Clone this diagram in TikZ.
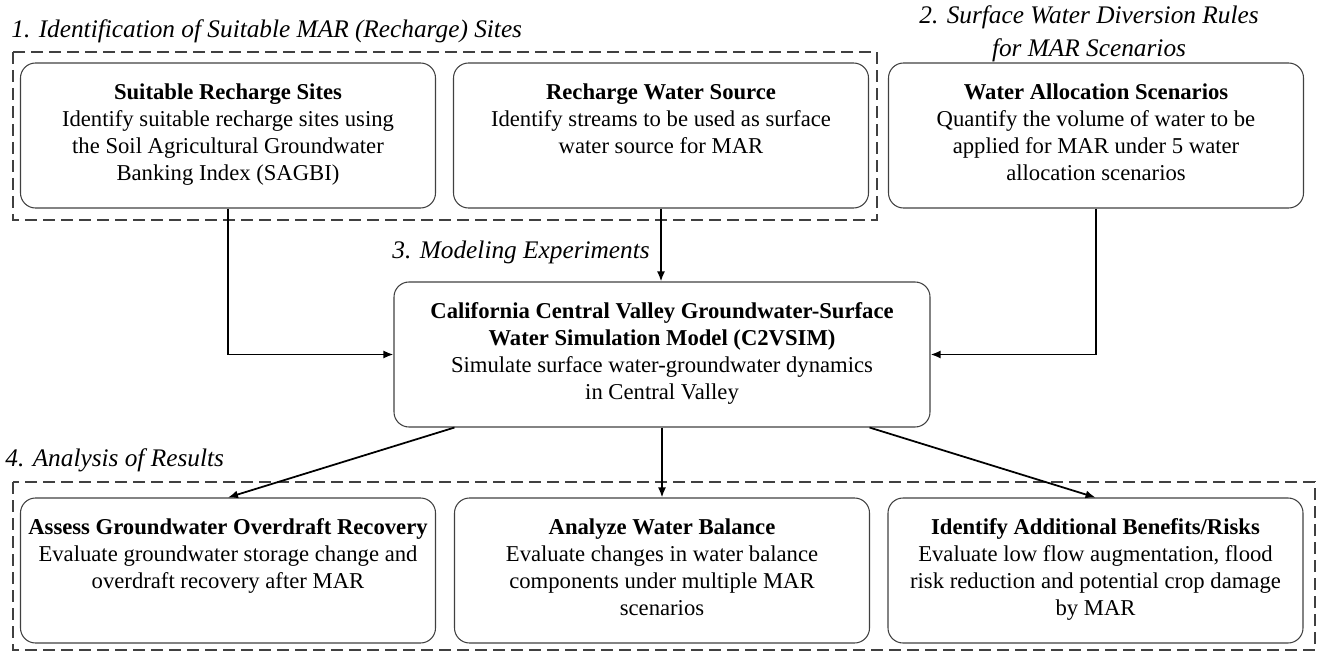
\documentclass[tikz,border=0pt]{standalone}
\usepackage{fontspec}
\setmainfont{Liberation Serif}
\usetikzlibrary{arrows.meta}
\newcommand{\boxtxt}[2]{\begin{minipage}[c][2.9cm][t]{#1}\centering\vspace*{0.42cm}#2\end{minipage}}
\begin{document}
\begin{tikzpicture}[x=1cm,y=1cm,
  stepbox/.style={draw=black!75, line width=0.6pt, rounded corners=0.3cm, inner sep=0pt, font=\fontsize{12.9}{15.3}\selectfont},
  grouptitle/.style={font=\fontsize{14.4}{18.8}\selectfont\itshape, inner sep=0pt},
  groupbox/.style={draw=black!75, line width=0.6pt, dash pattern=on 0.24cm off 0.12cm},
  flow/.style={-{Latex[length=0.2cm,width=0.16cm]}, line width=1pt}]
\useasboundingbox (0,0) rectangle (26.5,-13.14);
% groups
\draw[groupbox] (0.26,-1.04) rectangle (17.54,-4.40);
\draw[groupbox] (0.26,-9.64) rectangle (26.3,-13.0);
\node[grouptitle, anchor=west] (t1) at (0.22,-0.62) {1. Identification of Suitable MAR (Recharge) Sites};
\node[grouptitle, align=center] (t2) at (21.78,-0.67) {2. Surface Water Diversion Rules\\for MAR Scenarios};
\node[grouptitle, anchor=east] (t3) at (13.0,-5.04) {3. Modeling Experiments};
\node[grouptitle, anchor=west] (t4) at (0.1,-9.2) {4. Analysis of Results};
% inputs
\node[stepbox] (A) at (4.56,-2.71) {\boxtxt{8.3cm}{\textbf{Suitable Recharge Sites}\\Identify suitable recharge sites using\\the Soil Agricultural Groundwater\\Banking Index (SAGBI)}};
\node[stepbox] (B) at (13.22,-2.71) {\boxtxt{8.3cm}{\textbf{Recharge Water Source}\\Identify streams to be used as surface\\water source for MAR}};
\node[stepbox] (C) at (21.92,-2.71) {\boxtxt{8.3cm}{\textbf{Water Allocation Scenarios}\\Quantify the volume of water to be\\applied for MAR under 5 water\\allocation scenarios}};
% model
\node[stepbox] (D) at (13.24,-7.09) {\boxtxt{10.72cm}{\textbf{California Central Valley Groundwater-Surface}\\\textbf{Water Simulation Model (C2VSIM)}\\Simulate surface water-groundwater dynamics\\in Central Valley}};
% results
\node[stepbox] (E) at (4.56,-11.41) {\boxtxt{8.3cm}{\textbf{Assess Groundwater Overdraft Recovery}\\Evaluate groundwater storage change and\\overdraft recovery after MAR}};
\node[stepbox] (F) at (13.24,-11.41) {\boxtxt{8.3cm}{\textbf{Analyze Water Balance}\\Evaluate changes in water balance\\components under multiple MAR\\scenarios}};
\node[stepbox] (G) at (21.91,-11.41) {\boxtxt{8.3cm}{\textbf{Identify Additional Benefits/Risks}\\Evaluate low flow augmentation, flood\\risk reduction and potential crop damage\\by MAR}};
\draw[flow] (A.south) |- (D.west);
\draw[flow] (B.south) -- (B.south |- D.north);
\draw[flow] (C.south) |- (D.east);
\draw[flow] ([xshift=1.22cm]D.south west) -- (E.north);
\draw[flow] (D.south) -- (F.north);
\draw[flow] ([xshift=-1.22cm]D.south east) -- (G.north);
\end{tikzpicture}
\end{document}
